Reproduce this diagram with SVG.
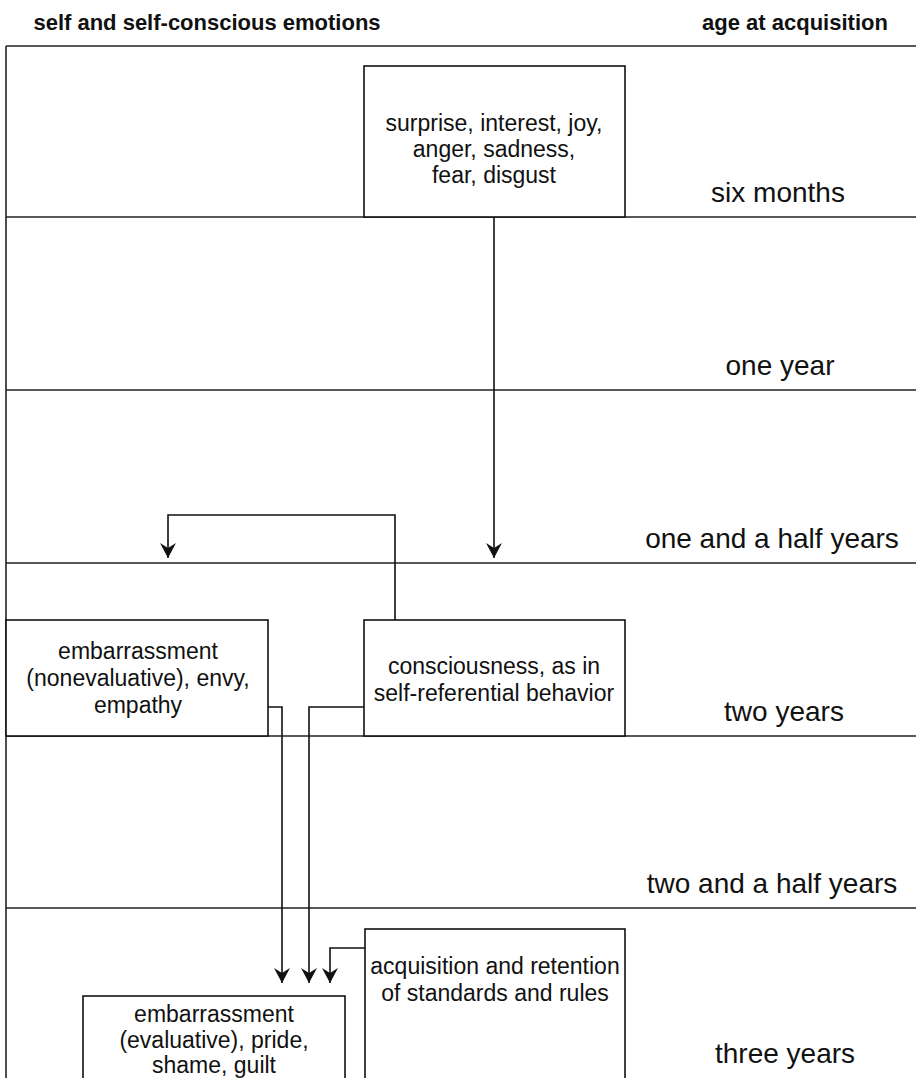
<svg xmlns="http://www.w3.org/2000/svg" width="916" height="1078" viewBox="0 0 916 1078">
<style>
.title{font-family:"Liberation Sans",Arial,sans-serif;font-size:22px;font-weight:bold;fill:#111;text-anchor:middle}
.age{font-family:"Liberation Sans",Arial,sans-serif;font-size:28px;fill:#111;text-anchor:middle}
.lbl{font-family:"Liberation Sans",Arial,sans-serif;font-size:23px;fill:#111;text-anchor:middle}
.frame{stroke:#222;stroke-width:1.6;fill:none}
.box{stroke:#111;stroke-width:1.6;fill:#fff}
.conn{stroke:#111;stroke-width:1.6;fill:none}
</style>
<defs>
<marker id="arr" markerUnits="userSpaceOnUse" markerWidth="17" markerHeight="16" viewBox="0 0 17 16" refX="16" refY="8" orient="auto">
<path d="M1,0 L16,8 L1,16 L6,8 Z" fill="#111"/>
</marker>
</defs>
<rect width="916" height="1078" fill="#fff"/>
<g id="titles">
<text class="title" x="207" y="30">self and self-conscious emotions</text>
<text class="title" x="795" y="30">age at acquisition</text>
</g>
<g id="grid">
<line class="frame" x1="6" y1="46" x2="916" y2="46"/>
<line class="frame" x1="6" y1="46" x2="6" y2="1078"/>
<line class="frame" x1="6" y1="217" x2="916" y2="217"/>
<line class="frame" x1="6" y1="390" x2="916" y2="390"/>
<line class="frame" x1="6" y1="563" x2="916" y2="563"/>
<line class="frame" x1="6" y1="736" x2="916" y2="736"/>
<line class="frame" x1="6" y1="908" x2="916" y2="908"/>
</g>
<g id="ages">
<text class="age" x="778" y="202">six months</text>
<text class="age" x="780" y="375">one year</text>
<text class="age" x="772" y="548">one and a half years</text>
<text class="age" x="784" y="721">two years</text>
<text class="age" x="772" y="893">two and a half years</text>
<text class="age" x="785" y="1063">three years</text>
</g>
<g id="node-basic">
<rect class="box" x="364" y="66" width="261" height="151"/>
<text class="lbl" x="494" y="131">surprise, interest, joy,</text>
<text class="lbl" x="494" y="157">anger, sadness,</text>
<text class="lbl" x="494" y="183">fear, disgust</text>
</g>
<g id="node-nonevaluative">
<rect class="box" x="6" y="620" width="262" height="116"/>
<text class="lbl" x="138" y="659">embarrassment</text>
<text class="lbl" x="138" y="686">(nonevaluative), envy,</text>
<text class="lbl" x="138" y="713">empathy</text>
</g>
<g id="node-consciousness">
<rect class="box" x="364" y="620" width="261" height="116"/>
<text class="lbl" x="494" y="674">consciousness, as in</text>
<text class="lbl" x="494" y="701">self-referential behavior</text>
</g>
<g id="node-standards">
<rect class="box" x="365" y="929" width="260" height="160"/>
<text class="lbl" x="495" y="974">acquisition and retention</text>
<text class="lbl" x="495" y="1001">of standards and rules</text>
</g>
<g id="node-evaluative">
<rect class="box" x="83" y="996" width="262" height="95"/>
<text class="lbl" x="214" y="1022">embarrassment</text>
<text class="lbl" x="214" y="1048">(evaluative), pride,</text>
<text class="lbl" x="214" y="1073">shame, guilt</text>
</g>
<g id="connectors">
<path class="conn" d="M494,217 L494,558" marker-end="url(#arr)"/>
<path class="conn" d="M395,620 L395,515 L168,515 L168,558" marker-end="url(#arr)"/>
<path class="conn" d="M268,707 L282,707 L282,983" marker-end="url(#arr)"/>
<path class="conn" d="M364,707 L309,707 L309,983" marker-end="url(#arr)"/>
<path class="conn" d="M365,948 L330,948 L330,983" marker-end="url(#arr)"/>
</g>
</svg>
